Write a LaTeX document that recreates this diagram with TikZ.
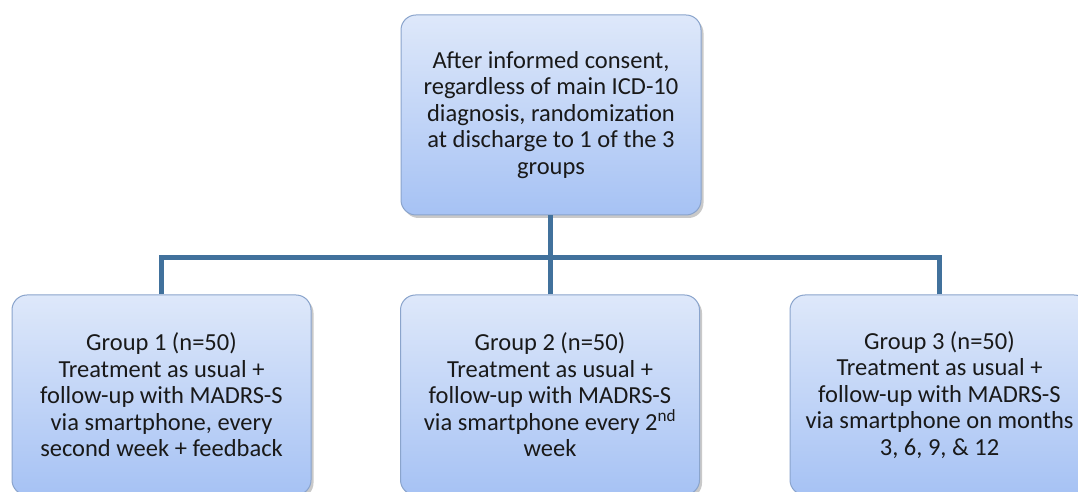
\documentclass[tikz,border=0pt]{standalone}
\usepackage{fontspec}
\setmainfont{Carlito}
\usetikzlibrary{shadows}
\definecolor{boxborder}{HTML}{8AA4CC}
\definecolor{boxtop}{HTML}{DEE8FA}
\definecolor{boxbottom}{HTML}{A6C2F4}
\definecolor{linkblue}{HTML}{41719C}
\tikzset{
  flowbox/.style={draw=boxborder, line width=1pt, rounded corners=15pt,
    top color=boxtop, bottom color=boxbottom,
    minimum width=299pt, minimum height=200pt, align=center,
    font=\fontsize{24.5}{26.5}\selectfont, text=black!90,
    drop shadow={shadow xshift=2.5pt, shadow yshift=-3pt, opacity=0.35, fill=black!60}},
  link/.style={draw=linkblue, line width=5pt}
}
\begin{document}
\begin{tikzpicture}[x=1pt,y=1pt]
\useasboundingbox (0,0) rectangle (1078,492);
\clip (0,0) rectangle (1078,492);
\fill[white] (0,0) rectangle (1078,492);
\node[flowbox, minimum width=300pt] (top) at (551,377) {After informed consent,\\regardless of main ICD-10\\diagnosis, randomization\\at discharge to 1 of the 3\\groups};
\node[flowbox] (g1) at (161.5,97) {Group 1 (n=50)\\Treatment as usual +\\follow-up with MADRS-S\\via smartphone, every\\second week + feedback};
\node[flowbox] (g2) at (550,97) {Group 2 (n=50)\\Treatment as usual +\\follow-up with MADRS-S\\via smartphone every 2\textsuperscript{nd}\\week};
\node[flowbox] (g3) at (939.5,97) {Group 3 (n=50)\\Treatment as usual +\\follow-up with MADRS-S\\via smartphone on months\\3, 6, 9, \& 12};
\coordinate (hub) at (550,234);
\draw[link] (top.south -| hub) -- (hub);
\draw[link] (g1.north) |- (hub);
\draw[link] (g3.north) |- (hub);
\draw[link] (g2.north) -- (hub);
\end{tikzpicture}
\end{document}
